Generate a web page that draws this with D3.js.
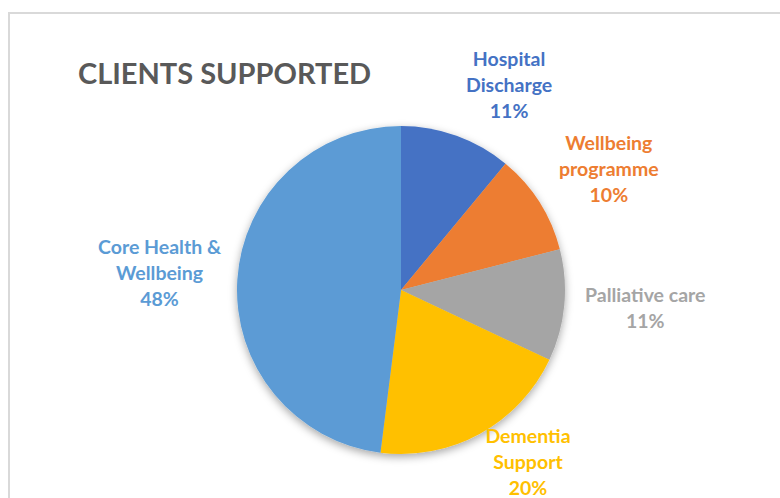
<!DOCTYPE html>
<html>
  <head>
    <title>Clients Supported</title>
    <script src="https://d3js.org/d3.v7.min.js"></script>
    <style>
      body { margin: 0; background: #fff; }
    </style>
  </head>
  <body>
    <div id="chart"></div>
    <script>
      // Data (percent of clients)
      const categories = ['Hospital Discharge', 'Wellbeing programme', 'Palliative care', 'Dementia Support', 'Core Health & Wellbeing'];
      const labelLines = [['Hospital', 'Discharge'], ['Wellbeing', 'programme'], ['Palliative care'], ['Dementia', 'Support'], ['Core Health &', 'Wellbeing']];
      const values = [11, 10, 11, 20, 48];
      const colours = ['#4472C4', '#ED7D31', '#A5A5A5', '#FFC000', '#5B9BD5'];

      // label placement: angle shift (deg) from slice middle, and distance from centre
      const labelShift = [8.1, 2.4, -0.9, -7.4, 0.2];
      const labelRadius = [231, 240, 245, 215, 242];

      const width = 780, height = 498;
      const cx = 401, cy = 290, radius = 164;

      const svg = d3.select('#chart')
        .append('svg')
        .attr('width', width)
        .attr('height', height)
        .style('font-family', 'Lato, "Open Sans", sans-serif');

      // soft shadow under the pie
      const defs = svg.append('defs');
      const f = defs.append('filter').attr('id', 'shadow')
        .attr('x', '-20%').attr('y', '-20%').attr('width', '140%').attr('height', '140%');
      f.append('feDropShadow')
        .attr('dx', 0).attr('dy', 3)
        .attr('stdDeviation', 4)
        .attr('flood-color', '#000')
        .attr('flood-opacity', 0.35);

      // chart area border (runs off the right / bottom)
      svg.append('rect')
        .attr('x', 9).attr('y', 13)
        .attr('width', 800).attr('height', 520)
        .attr('fill', 'none')
        .attr('stroke', '#d9d9d9')
        .attr('stroke-width', 2);

      svg.append('text')
        .attr('x', 78).attr('y', 84)
        .attr('fill', '#595959')
        .attr('font-size', 29)
        .attr('font-weight', 'bold')
        .text('CLIENTS SUPPORTED');

      const pie = d3.pie().sort(null).value(d => d);
      const arcs = pie(values);
      const arc = d3.arc().innerRadius(0).outerRadius(radius);

      const g = svg.append('g')
        .attr('transform', 'translate(' + cx + ',' + cy + ')');

      g.append('g')
        .attr('filter', 'url(#shadow)')
        .selectAll('path')
        .data(arcs)
        .enter()
        .append('path')
        .attr('d', arc)
        .attr('fill', (d, i) => colours[i]);

      // data labels
      const lineH = 26;
      arcs.forEach((d, i) => {
        const a = (d.startAngle + d.endAngle) / 2 + labelShift[i] * Math.PI / 180;
        const x = Math.sin(a) * labelRadius[i];
        const y = -Math.cos(a) * labelRadius[i];
        const lines = labelLines[i].concat([values[i] + '%']);
        const t = g.append('text')
          .attr('text-anchor', 'middle')
          .attr('font-size', 19.5)
          .attr('font-weight', 'bold')
          .attr('fill', colours[i]);
        lines.forEach((s, j) => {
          t.append('tspan')
            .attr('x', x)
            .attr('y', y + (j - (lines.length - 1) / 2) * lineH + 6)
            .text(s);
        });
      });
    </script>
  </body>
</html>
